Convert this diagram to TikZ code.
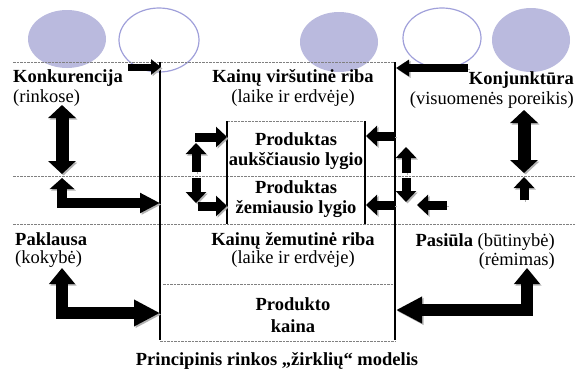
\documentclass[tikz,border=0pt]{standalone}
\usepackage{fontspec}
\setmainfont{Liberation Serif}
\usetikzlibrary{arrows.meta}
\definecolor{ovalfill}{RGB}{186,186,222}
\definecolor{ovalline}{RGB}{160,160,218}

\begin{document}
\begin{tikzpicture}[x=1pt,y=-1pt,
  font=\fontsize{18.5}{20}\selectfont,
  lbl/.style={inner sep=0pt},
  oval/.style={draw=ovalline,line width=1.2pt},
  dashline/.style={draw=gray,line width=1pt,dash pattern=on 2.5pt off 1pt},
  frame/.style={line width=1.2pt},
  shade/.style={preaction={draw=black!30,transform canvas={shift={(1.5pt,-1.5pt)}}}},
  smallarr/.style={shade,line width=7pt,-{Triangle[width=15pt,length=10pt]}},
  toparr/.style={shade,line width=8pt,-{Triangle[width=16pt,length=13pt]}},
  midarr/.style={shade,line width=9pt,-{Triangle[width=20pt,length=11pt]}},
  dblarr/.style={shade,line width=13pt,{Triangle[width=27pt,length=13pt]}-{Triangle[width=27pt,length=13pt]}},
  larr/.style={shade,line width=10pt,{Triangle[width=24pt,length=11pt]}-{Triangle[width=19pt,length=20pt]}},
  bigarr/.style={shade,line width=12pt,{Triangle[width=25pt,length=16pt]}-{Triangle[width=25pt,length=26pt]}}]
\useasboundingbox (0,0) rectangle (577,372);
%ellipses
\fill[ovalfill] (67,39) ellipse [x radius=39pt,y radius=29pt];
\draw[oval] (159,40) ellipse [x radius=40pt,y radius=32pt];
\fill[ovalfill] (339,42) ellipse [x radius=39pt,y radius=30pt];
\draw[oval] (442,38) ellipse [x radius=39pt,y radius=30pt];
\fill[ovalfill] (531,40) ellipse [x radius=39pt,y radius=32pt];
%dashed levels
\draw[dashline] (13,62)--(394,62);
\draw[dashline] (13,176)--(575,176);
\draw[dashline] (13,224)--(575,224);
\draw[dashline] (227,121)--(366,121);
\draw[dashline] (163,284)--(395,284);
\draw[dashline] (160,341)--(395,341);
%frame
\draw[frame] (160,62)--(160,340);
\draw[frame] (395,62)--(395,340);
\draw[frame] (227,121)--(227,224);
\draw[frame] (365,121)--(365,224);
%texts
\node[lbl,anchor=base west] (konk) at (13,82) {\textbf{Konkurencija}};
\node[lbl,anchor=base west] (rink) at (13,102) {(rinkose)};
\node[lbl,anchor=base] (virs) at (293,82) {\textbf{Kainų viršutinė riba}};
\node[lbl,anchor=base] (virslaik) at (293,102) {(laike ir erdvėje)};
\node[lbl,anchor=base east] (konj) at (574,84) {\textbf{Konjunktūra}};
\node[lbl,anchor=base east] (poreik) at (574,104) {(visuomenės poreikis)};
\node[lbl,anchor=base] (prodA) at (296,145) {\textbf{Produktas}};
\node[lbl,anchor=base] (auksc) at (296,165) {\textbf{aukščiausio lygio}};
\node[lbl,anchor=base] (prodB) at (296,193) {\textbf{Produktas}};
\node[lbl,anchor=base] (zem) at (296,213) {\textbf{žemiausio lygio}};
\node[lbl,anchor=base west] (pakl) at (15,245) {\textbf{Paklausa}};
\node[lbl,anchor=base west] (kok) at (15,263) {(kokybė)};
\node[lbl,anchor=base] (zemut) at (293,245) {\textbf{Kainų žemutinė riba}};
\node[lbl,anchor=base] (zemlaik) at (293,263) {(laike ir erdvėje)};
\node[lbl,anchor=base east] (pas) at (555,246) {\textbf{Pasiūla} (būtinybė)};
\node[lbl,anchor=base east] (rem) at (555,265) {(rėmimas)};
\node[lbl,anchor=base] (prodk) at (293,310) {\textbf{Produkto}};
\node[lbl,anchor=base] (kaina) at (293,332) {\textbf{kaina}};
\node[lbl,anchor=base] (title) at (277,365) {\textbf{Principinis rinkos „žirklių“ modelis}};
%arrows to upper limit
\draw[smallarr] (128,67) -- (161,67);
\draw[toparr] (468,68) -- (396,68);
%Konkurencija
\draw[dblarr] (62,105) -- (62,174);
\draw[larr] (62,178) -- (62,203) -- (160,203);
%Paklausa
\draw[bigarr] (62,268) -- (62,313) -- (160,313);
%Pasiula
\draw[bigarr] (527,268) -- (527,310) -- (396,310);
%Konjunktura
\draw[dblarr] (524,110) -- (524,173);
\draw[midarr] (524,200) -- (524,177);
%inner box, left side
\draw[midarr] (195,137) -- (227,137);
\draw[midarr] (196,172) -- (196,143);
\draw[midarr] (196,178) -- (196,203);
\draw[midarr] (198,206) -- (227,206);
%inner box, right side
\draw[midarr] (395,136) -- (366,136);
\draw[midarr] (395,205) -- (366,205);
\draw[midarr] (406,173) -- (406,147);
\draw[midarr] (406,178) -- (406,202);
\draw[midarr] (447,205) -- (417,205);
\end{tikzpicture}
\end{document}
